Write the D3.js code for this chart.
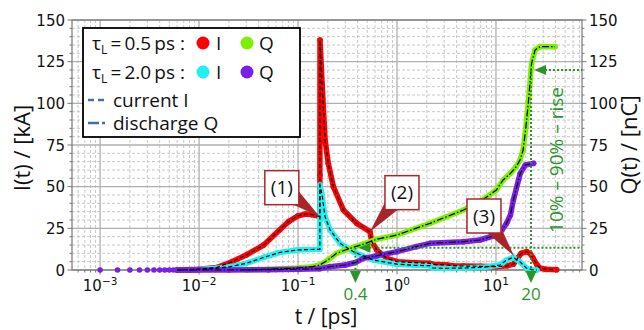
<!DOCTYPE html>
<html lang="en">
<head>
<meta charset="utf-8">
<script src="https://d3js.org/d3.v7.min.js"></script>
<style>
  body { margin: 0; background: #fff; }
  text { font-family: "DejaVu Sans", sans-serif; fill: #111; }
  .lab { font-family: "Open Sans", "DejaVu Sans", sans-serif; }
</style>
</head>
<body>
<div id="viz"></div>
<script>
// ---- data (t in ps, I in kA, Q in nC) ----
var decadeT = [1e-3, 1e-2, 1e-1, 1, 10];
var decadeExp = ["\u22123", "\u22122", "\u22121", "0", "1"];
var yTicks = [0, 25, 50, 75, 100, 125, 150];

var redI = [[0.006,0],[0.01,0.5],[0.015,1.5],[0.0206,4.5],[0.03,9],[0.045,15],[0.065,24],[0.08,29],
  [0.1,32.5],[0.12,33.6],[0.14,33.2],[0.166,32],[0.1663,57],[0.1667,138],[0.175,112],[0.1875,78],
  [0.202,64],[0.2275,50],[0.287,36],[0.392,28],[0.533,23],[0.556,17],[0.625,12],[0.79,7],[1.0,5],
  [1.5,4.4],[2.15,4],[2.3,3.4],[3.2,3],[3.6,2.6],[4.7,2.4],[7,2.2],[10,2],[13,2.5],[15,3.5],
  [16.5,7],[18,10],[20.4,11],[22,10],[23.8,7],[26,3],[28,1],[32,0.4],[41,0.2]];

var cyanI = [[0.008,0],[0.015,1],[0.0206,2],[0.03,4],[0.0447,7.5],[0.065,10.5],[0.097,12],[0.13,12.3],
  [0.166,12.4],[0.1663,30],[0.1667,51],[0.175,45],[0.1875,32],[0.211,24],[0.266,16],[0.362,11],
  [0.574,6],[1.0,3.5],[1.5,2.8],[2.15,2.6],[2.3,1.2],[3,1],[5,1.2],[8,1.8],[11,3],[12.8,6],
  [14.9,7.6],[17.4,5],[20.4,1],[23,0.2],[26,0]];

var greenQ = [[0.03,0],[0.07,0.8],[0.1,1.2],[0.14,2],[0.166,3],[0.2,6],[0.245,10],[0.3,12],[0.38,14],
  [0.457,15.5],[0.62,18.4],[1.0,21],[2.15,28],[4.7,36],[6.9,41],[10.1,48],[11.8,54],[14,58],
  [16,62],[17.5,66],[18.8,72],[20,85],[21.2,100],[22.9,124],[24.8,132],[27.9,134],[39.5,134]];

var purpleQ = [[0.001,0],[0.0015,0],[0.002,0],[0.0025,0],[0.003,0],[0.0035,0],[0.004,0],[0.0045,0],
  [0.005,0],[0.0055,0],[0.006,0],[0.0065,0],[0.007,0],[0.0075,0],[0.008,0],[0.0085,0],[0.009,0],
  [0.0095,0],[0.01,0],[0.02,0],[0.05,0.2],[0.1,0.4],[0.166,0.8],[0.21,2],[0.3,3],[0.38,4.5],
  [0.457,7],[0.62,8.5],[1.0,11],[1.57,14],[2.15,16],[4.7,17],[6.9,18],[10.1,21],[11.5,24],
  [12.8,28],[14,33],[15,42],[16.9,54],[17.6,58],[19.8,63],[24,64]];

// annotated points on the red current
var annotLabels = ["(1)", "(2)", "(3)"];
var annotT = [0.166, 0.533, 15.2];
var annotI = [32, 23, 8.4];

// 10 % and 90 % of the charge rise
var riseT = [0.38, 22.6];
var riseQ = [13.3, 120];
var riseLabels = ["0.4", "20"];

// ---- layout ----
var W = 644, H = 330;
var pL = 72, pR = 582, pT = 20, pB = 270;
var green = "#2a962a", boxRed = "#a8262a";

var svg = d3.select("#viz").append("svg").attr("width", W).attr("height", H);

var x = d3.scaleLog().domain([5.2e-4, 74]).range([pL, pR]);
var y = d3.scaleLinear().domain([0, 150]).range([pB, pT]);
var yQ = d3.scaleLinear().domain([0, 150]).range([pB, pT]);

var allT = x.ticks();
var isMajor = function(t) { return Math.abs(Math.log10(t) - Math.round(Math.log10(t))) < 1e-6; };
var minorT = allT.filter(function(t) { return !isMajor(t); });
var yMinor = d3.range(0, 151, 5).filter(function(v) { return v % 25 != 0; });

// grid
var grid = svg.append("g");
grid.selectAll(".vmin").data(minorT).enter().append("line")
  .attr("x1", x).attr("x2", x).attr("y1", pT).attr("y2", pB)
  .attr("stroke", "#c8c8c8").attr("stroke-dasharray", "3,2");
grid.selectAll(".hmin").data(yMinor).enter().append("line")
  .attr("x1", pL).attr("x2", pR).attr("y1", y).attr("y2", y)
  .attr("stroke", "#c8c8c8").attr("stroke-dasharray", "3,2");
grid.selectAll(".vmaj").data(decadeT).enter().append("line")
  .attr("x1", x).attr("x2", x).attr("y1", pT).attr("y2", pB)
  .attr("stroke", "#b0b0b0").attr("stroke-width", 1.3);
grid.selectAll(".hmaj").data(yTicks).enter().append("line")
  .attr("x1", pL).attr("x2", pR).attr("y1", y).attr("y2", y)
  .attr("stroke", "#b0b0b0").attr("stroke-width", 1.3);

// axes
var ax = svg.append("g").attr("stroke", "#777");
ax.append("rect").attr("x", pL).attr("y", pT).attr("width", pR - pL).attr("height", pB - pT)
  .attr("fill", "none").attr("stroke-width", 1.2);
ax.selectAll(".lt").data(yTicks).enter().append("line")
  .attr("x1", pL - 4.5).attr("x2", pL).attr("y1", y).attr("y2", y);
ax.selectAll(".ltm").data(yMinor).enter().append("line")
  .attr("x1", pL - 2.5).attr("x2", pL).attr("y1", y).attr("y2", y);
ax.selectAll(".rt").data(yTicks).enter().append("line")
  .attr("x1", pR).attr("x2", pR + 4.5).attr("y1", yQ).attr("y2", yQ);
ax.selectAll(".rtm").data(yMinor).enter().append("line")
  .attr("x1", pR).attr("x2", pR + 2.5).attr("y1", yQ).attr("y2", yQ);
ax.selectAll(".bt").data(decadeT).enter().append("line")
  .attr("x1", x).attr("x2", x).attr("y1", pB).attr("y2", pB + 4.5);
ax.selectAll(".btm").data(minorT).enter().append("line")
  .attr("x1", x).attr("x2", x).attr("y1", pB).attr("y2", pB + 2.5);

svg.selectAll(".ly").data(yTicks).enter().append("text")
  .attr("x", pL - 7).attr("y", function(d) { return y(d) + 5.5; })
  .attr("text-anchor", "end").attr("font-size", 15).text(function(d) { return d; });
svg.selectAll(".ry").data(yTicks).enter().append("text")
  .attr("x", pR + 7).attr("y", function(d) { return yQ(d) + 5.5; })
  .attr("font-size", 15).text(function(d) { return d; });
decadeT.forEach(function(t, i) {
  var tx = svg.append("text").attr("x", x(t)).attr("y", 291).attr("text-anchor", "middle").attr("font-size", 15);
  tx.append("tspan").text("10");
  tx.append("tspan").attr("dy", -6).attr("font-size", 10.5).text(decadeExp[i]);
});

svg.append("text").attr("class", "lab").attr("x", 326).attr("y", 324).attr("text-anchor", "middle")
  .attr("font-size", 21).text("t / [ps]");
svg.append("text").attr("class", "lab").attr("transform", "translate(30,148) rotate(-90)")
  .attr("text-anchor", "middle").attr("font-size", 22).text("I(t) / [kA]");
svg.append("text").attr("class", "lab").attr("transform", "translate(637,145) rotate(-90)")
  .attr("text-anchor", "middle").attr("font-size", 22).text("Q(t) / [nC]");

// series
var line = d3.line().x(function(d) { return x(d[0]); });
function drawSeries(data, col, scale) {
  var ln = line.y(function(d) { return scale(d[1]); });
  svg.append("path").attr("d", ln(data.filter(function(d) { return d[0] >= 0.006; })))
    .attr("fill", "none").attr("stroke", col).attr("stroke-width", 5.5)
    .attr("stroke-linejoin", "round").attr("stroke-linecap", "round");
  svg.append("g").selectAll("circle").data(data).enter().append("circle")
    .attr("cx", function(d) { return x(d[0]); }).attr("cy", function(d) { return scale(d[1]); })
    .attr("r", 2.8).attr("fill", col);
}
drawSeries(redI, "#ff0000", y);
drawSeries(cyanI, "#1ff0f0", y);
drawSeries(greenQ, "#7cf000", yQ);
drawSeries(purpleQ, "#7a1fe8", yQ);

function drawFit(data, scale, dash) {
  var ln = line.y(function(d) { return scale(d[1]); });
  svg.append("path").attr("d", ln(data.filter(function(d) { return d[0] >= 0.006; })))
    .attr("fill", "none").attr("stroke", "#000").attr("stroke-width", 1.2)
    .attr("stroke-dasharray", dash);
}
drawFit(redI, y, "4,2.5");
drawFit(cyanI, y, "4,2.5");
drawFit(greenQ, yQ, "7,2,1.5,2");
drawFit(purpleQ, yQ, "7,2,1.5,2");

// 10-90 % rise markers
var rg = svg.append("g");
riseT.forEach(function(t, i) {
  var px = x(t), py = yQ(riseQ[i]);
  rg.append("line").attr("x1", px).attr("x2", px).attr("y1", py).attr("y2", pB)
    .attr("stroke", green).attr("stroke-width", 2).attr("stroke-dasharray", "2,2");
  rg.append("line").attr("x1", px + 10).attr("x2", pR).attr("y1", py).attr("y2", py)
    .attr("stroke", green).attr("stroke-width", 2).attr("stroke-dasharray", "2,2");
  rg.append("path").attr("d", "M" + (px + 3) + "," + py + "l12,-5l0,10z").attr("fill", green);
  rg.append("path").attr("d", "M" + (px - 5.5) + ",271l11,0l-5.5,12z").attr("fill", green);
  rg.append("text").attr("class", "lab").attr("x", px).attr("y", 300).attr("text-anchor", "middle")
    .attr("font-size", 17).style("fill", green).text(riseLabels[i]);
});
rg.append("text").attr("class", "lab").attr("transform", "translate(563,160) rotate(-90)")
  .attr("text-anchor", "middle").attr("font-size", 19).style("fill", green).text("10% \u2013 90% \u2013 rise");

// annotation boxes
var boxOff = [[-38, -29], [32, -39], [-30, -40]];
annotLabels.forEach(function(lab, i) {
  var tx = x(annotT[i]), ty = y(annotI[i]);
  var cx = tx + boxOff[i][0], cy = ty + boxOff[i][1];
  var dx = tx - cx, dy = ty - cy, len = Math.sqrt(dx * dx + dy * dy);
  var nx = -dy / len * 11, ny = dx / len * 11;
  svg.append("path").attr("d", "M" + (cx + nx) + "," + (cy + ny) + "L" + tx + "," + ty + "L" + (cx - nx) + "," + (cy - ny) + "z")
    .attr("fill", boxRed);
  svg.append("rect").attr("x", cx - 17).attr("y", cy - 17).attr("width", 34).attr("height", 34)
    .attr("fill", "#fff").attr("stroke", boxRed).attr("stroke-width", 1.5);
  svg.append("text").attr("class", "lab").attr("x", cx).attr("y", cy + 6.5).attr("text-anchor", "middle")
    .attr("font-size", 19).text(lab);
});

// legend
var lg = svg.append("g");
lg.append("rect").attr("x", 83).attr("y", 28).attr("width", 217).attr("height", 109)
  .attr("fill", "#fff").attr("stroke", "#000").attr("stroke-width", 1.8);
var legTau = ["0.5", "2.0"];
var legCols = [["#ff0000", "#7cf000"], ["#1ff0f0", "#7a1fe8"]];
[43, 72].forEach(function(ly, i) {
  var t = lg.append("text").attr("class", "lab").attr("x", 92).attr("y", ly + 7).attr("font-size", 19);
  t.append("tspan").text("\u03c4");
  t.append("tspan").attr("dy", 4).attr("font-size", 12).text("L");
  t.append("tspan").attr("dy", -4).text("\u2009=\u2009" + legTau[i] + "\u2009ps :");
  lg.append("circle").attr("cx", 203).attr("cy", ly).attr("r", 6.5).attr("fill", legCols[i][0]);
  lg.append("text").attr("class", "lab").attr("x", 216).attr("y", ly + 7).attr("font-size", 19).text("I");
  lg.append("circle").attr("cx", 247).attr("cy", ly).attr("r", 6.5).attr("fill", legCols[i][1]);
  lg.append("text").attr("class", "lab").attr("x", 259).attr("y", ly + 7).attr("font-size", 19).text("Q");
});
lg.append("line").attr("x1", 88).attr("x2", 108).attr("y1", 100).attr("y2", 100)
  .attr("stroke", "#3f6fb0").attr("stroke-width", 2.5).attr("stroke-dasharray", "6,4");
lg.append("line").attr("x1", 88).attr("x2", 108).attr("y1", 123).attr("y2", 123)
  .attr("stroke", "#3f6fb0").attr("stroke-width", 2.5).attr("stroke-dasharray", "11,3,3,3");
lg.append("text").attr("class", "lab").attr("x", 113).attr("y", 107).attr("font-size", 19).text("current I");
lg.append("text").attr("class", "lab").attr("x", 113).attr("y", 130).attr("font-size", 19).text("discharge Q");
</script>
</body>
</html>
